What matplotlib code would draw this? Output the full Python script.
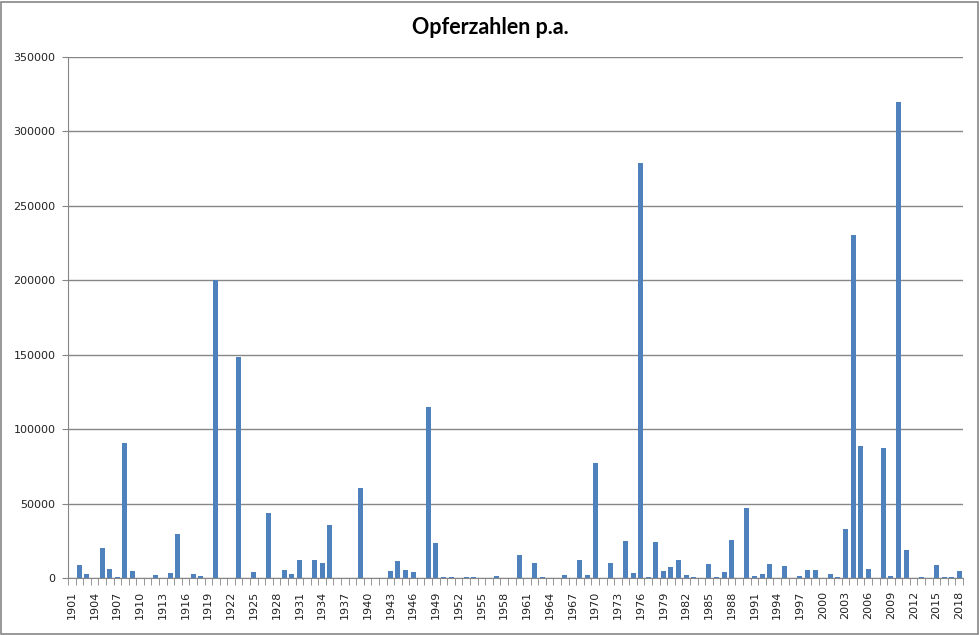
import matplotlib.pyplot as plt
from matplotlib.patches import Rectangle
import numpy as np

plt.rcParams["font.family"] = "DejaVu Sans"

years = list(range(1901, 2019))
victims = [
    0, 8700, 2700, 0, 20200, 6000, 900, 91000, 4700, 0,            # 1901-1910
    0, 2000, 0, 3400, 29600, 0, 2700, 1300, 0, 200000,             # 1911-1920
    0, 0, 148700, 0, 4000, 0, 43700, 0, 5400, 2700,                # 1921-1930
    12100, 0, 12100, 10100, 35600, 0, 0, 0, 60500, 0,              # 1931-1940
    0, 0, 4700, 11400, 5400, 4000, 0, 114800, 23500, 700,          # 1941-1950
    700, 0, 700, 700, 0, 0, 1300, 0, 0, 15500,                     # 1951-1960
    0, 10100, 700, 0, 0, 2000, 0, 12100, 2000, 77300,              # 1961-1970
    0, 10100, 0, 24900, 3400, 278900, 700, 24200, 4700, 7400,      # 1971-1980
    12100, 2000, 700, 0, 9400, 700, 4000, 25500, 0, 47000,         # 1981-1990
    1300, 2700, 9400, 0, 8100, 0, 1300, 5400, 5400, 0,             # 1991-2000
    2700, 700, 32900, 230700, 88700, 6000, 0, 87400, 1300, 319500, # 2001-2010
    18800, 0, 700, 0, 8700, 700, 700, 4700,                        # 2011-2018
]
y_ticks = [0, 50000, 100000, 150000, 200000, 250000, 300000, 350000]
title = "Opferzahlen p.a."

grey = "#868686"

fig = plt.figure(figsize=(9.8, 6.35), dpi=100)
ax = fig.add_axes([68 / 980, 57 / 635, (963 - 68) / 980, (578 - 57) / 635])

x = np.arange(len(years))
ax.bar(x, victims, width=0.66, color="#4F81BD", zorder=3)

ax.set_xlim(-0.5, len(years) - 0.5)
ax.set_ylim(0, 350000)

ax.set_yticks(y_ticks)
ax.set_yticklabels([str(v) for v in y_ticks], fontsize=8, color="#222222")
ax.yaxis.grid(True, color=grey, linewidth=1, zorder=0)
ax.tick_params(axis="y", length=4, color=grey, pad=5)

# tick marks between the categories, labels every third year
ax.set_xticks(np.arange(-0.5, len(years), 1.0), minor=True)
ax.set_xticks(x[::3])
ax.set_xticklabels([str(y) for y in years[::3]], rotation=90, fontsize=8,
                   color="#222222")
ax.tick_params(axis="x", which="major", length=0, pad=9)
ax.tick_params(axis="x", which="minor", length=5, color=grey)

for side in ["top", "right"]:
    ax.spines[side].set_visible(False)
for side in ["left", "bottom"]:
    ax.spines[side].set_color(grey)

fig.text(0.5, 1 - 28 / 635, title, ha="center", va="center",
         fontsize=15.5, fontweight="bold", family="Lato")

fig.patches.append(Rectangle((0.001, 0.001), 0.997, 0.996, transform=fig.transFigure,
                             fill=False, edgecolor=grey, linewidth=1.2))

fig.savefig("out.png", dpi=100)
